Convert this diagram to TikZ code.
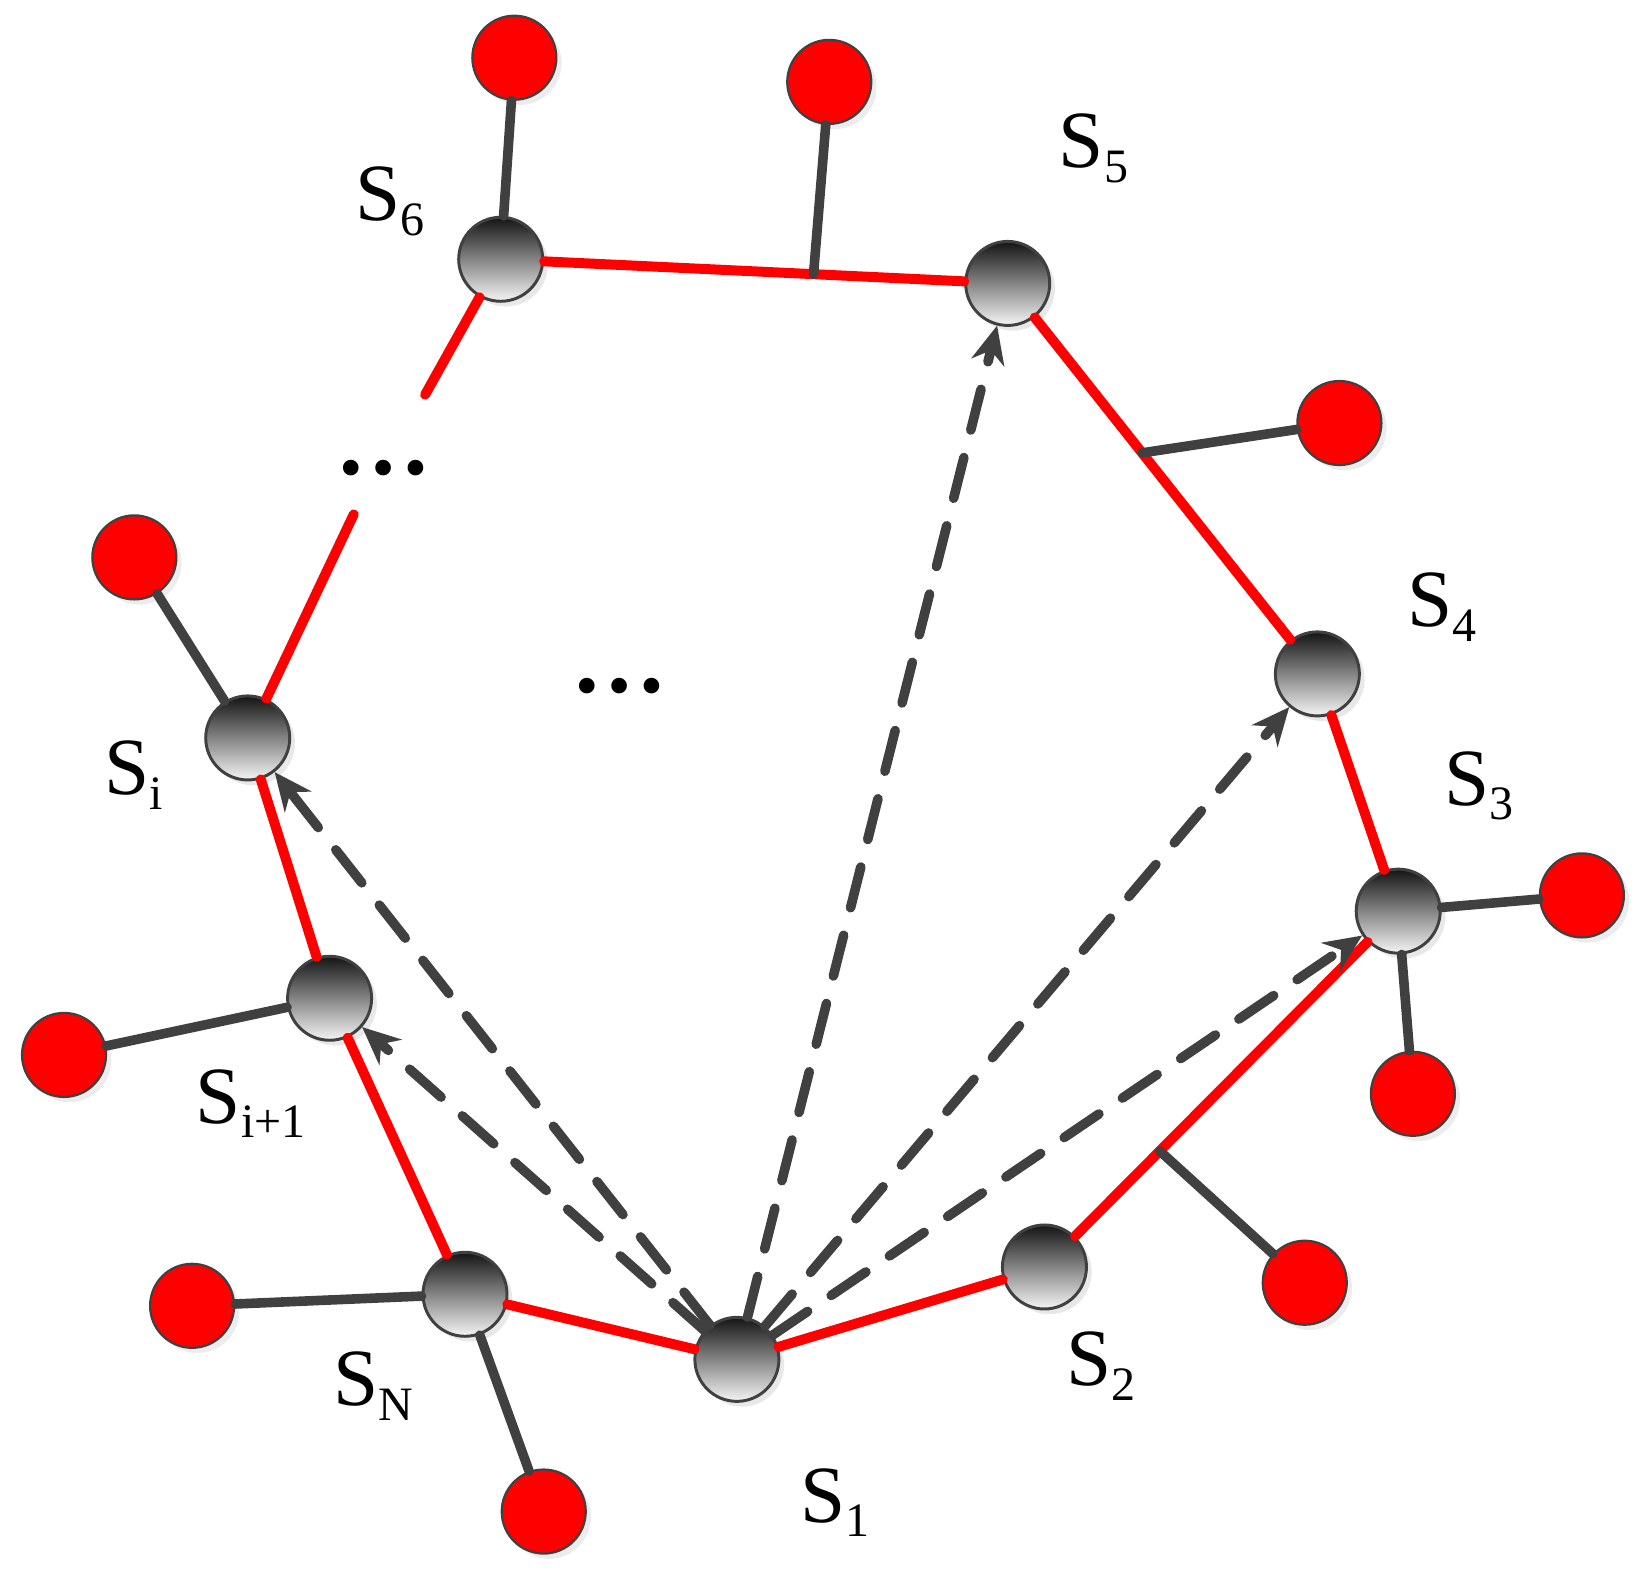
\documentclass[tikz,border=0pt]{standalone}
\usepackage{fontspec}
\setmainfont{Liberation Serif}
\newfontfamily\labelfont{Liberation Serif}
\usetikzlibrary{arrows.meta, shadows, calc}

\newcommand{\sname}[1]{S\raisebox{-4pt}{\fontsize{13}{13}\selectfont #1}}

\begin{document}
\begin{tikzpicture}[x=0.01cm, y=-0.01cm,
  station/.style={circle, minimum size=0.8cm, inner sep=0, draw=black!75, line width=0.8pt,
    top color=black!92, bottom color=black!4,
    drop shadow={opacity=0.18, shadow xshift=0.05cm, shadow yshift=-0.05cm}},
  sink/.style={circle, minimum size=0.8cm, inner sep=0, draw=black!75, line width=0.6pt, fill=red,
    drop shadow={opacity=0.15, shadow xshift=0.05cm, shadow yshift=-0.05cm}},
  link/.style={red, line width=2.7pt, line cap=round},
  stub/.style={black!75, line width=2.6pt, line cap=round},
  probe/.style={black!75, line width=2.6pt, line cap=round, dash pattern=on 0.4cm off 0.27cm,
    -{Stealth[length=0.36cm, width=0.32cm]}},
  tag/.style={anchor=base west, inner sep=0, font=\labelfont\fontsize{22}{26}\selectfont}]
  \useasboundingbox (0,0) rectangle (1570,1500);

  % stations
  \node (s1) at (702,1295) [station] {};
  \node (s2) at (995,1207) [station] {};
  \node (s3) at (1332,868) [station] {};
  \node (s4) at (1255,642) [station] {};
  \node (s5) at (960,270) [station] {};
  \node (s6) at (477,247) [station] {};
  \node (si) at (236,703) [station] {};
  \node (si1) at (314,951) [station] {};
  \node (sn) at (443,1233) [station] {};

  %%%%%%%%%%%%%%%%%%
  \node (r6) at (490,55) [sink] {};
  \node (r65) at (790,78) [sink] {};
  \node (r54) at (1276,403) [sink] {};
  \node (r3a) at (1507,853) [sink] {};
  \node (r3b) at (1346,1042) [sink] {};
  \node (r32) at (1243,1222) [sink] {};
  \node (rna) at (518,1440) [sink] {};
  \node (rnb) at (183,1244) [sink] {};
  \node (ri1) at (61,1005) [sink] {};
  \node (ri) at (128,531) [sink] {};

  %%%%%%%%%%%%%%%%%%
  \node (t1) at (762,1450) [tag] {\sname{1}};
  \node (t2) at (1015,1320) [tag] {\sname{2}};
  \node (t3) at (1375,767) [tag] {\sname{3}};
  \node (t4) at (1340,597) [tag] {\sname{4}};
  \node (t5) at (1008,160) [tag] {\sname{5}};
  \node (t6) at (338,210) [tag] {\sname{6}};
  \node (ti) at (99,757) [tag] {\sname{i}};
  \node (ti1) at (186,1070) [tag] {\sname{i+1}};
  \node (tn) at (317,1339) [tag] {\sname{N}};

  \node (dots1) at (365,446) [font=\labelfont\fontsize{26}{30}\selectfont] {\textbf{\dots}};
  \node (dots2) at (590,654) [font=\labelfont\fontsize{26}{30}\selectfont] {\textbf{\dots}};

  %%%%%%%%%%%%%%%%%%
  \coordinate (b65) at ($(s6)!0.617!(s5)$);
  \coordinate (b54) at ($(s5)!0.434!(s4)$);
  \coordinate (b32) at ($(s3)!0.674!(s2)$);
  \coordinate (gapi) at (337,490);
  \coordinate (gap6) at (405,376);

  %%%%%%%%%%%%%%%%%%%%
  \draw [link] (s6) -- (s5);
  \draw [link] (s5) -- (s4);
  \draw [link] (s4) -- (s3);
  \draw [link] (s3) -- (s2);
  \draw [link] (s2) -- (s1);
  \draw [link] (s1) -- (sn);
  \draw [link] (sn) -- (si1);
  \draw [link] (si1) -- (si);
  \draw [link] (si) -- (gapi);
  \draw [link] (s6) -- (gap6);

  \draw [stub] (s6) -- (r6);
  \draw [stub] (b65) -- (r65);
  \draw [stub] (b54) -- (r54);
  \draw [stub] (s3) -- (r3a);
  \draw [stub] (s3) -- (r3b);
  \draw [stub] (b32) -- (r32);
  \draw [stub] (sn) -- (rna);
  \draw [stub] (sn) -- (rnb);
  \draw [stub] (si1) -- (ri1);
  \draw [stub] (si) -- (ri);

  \draw [probe] (s1) -- (s5);
  \draw [probe] (s1) -- (s4);
  \draw [probe] (s1) -- (s3);
  \draw [probe] (s1) -- (si1);
  \draw [probe] (s1) -- (si);

\end{tikzpicture}
\end{document}
